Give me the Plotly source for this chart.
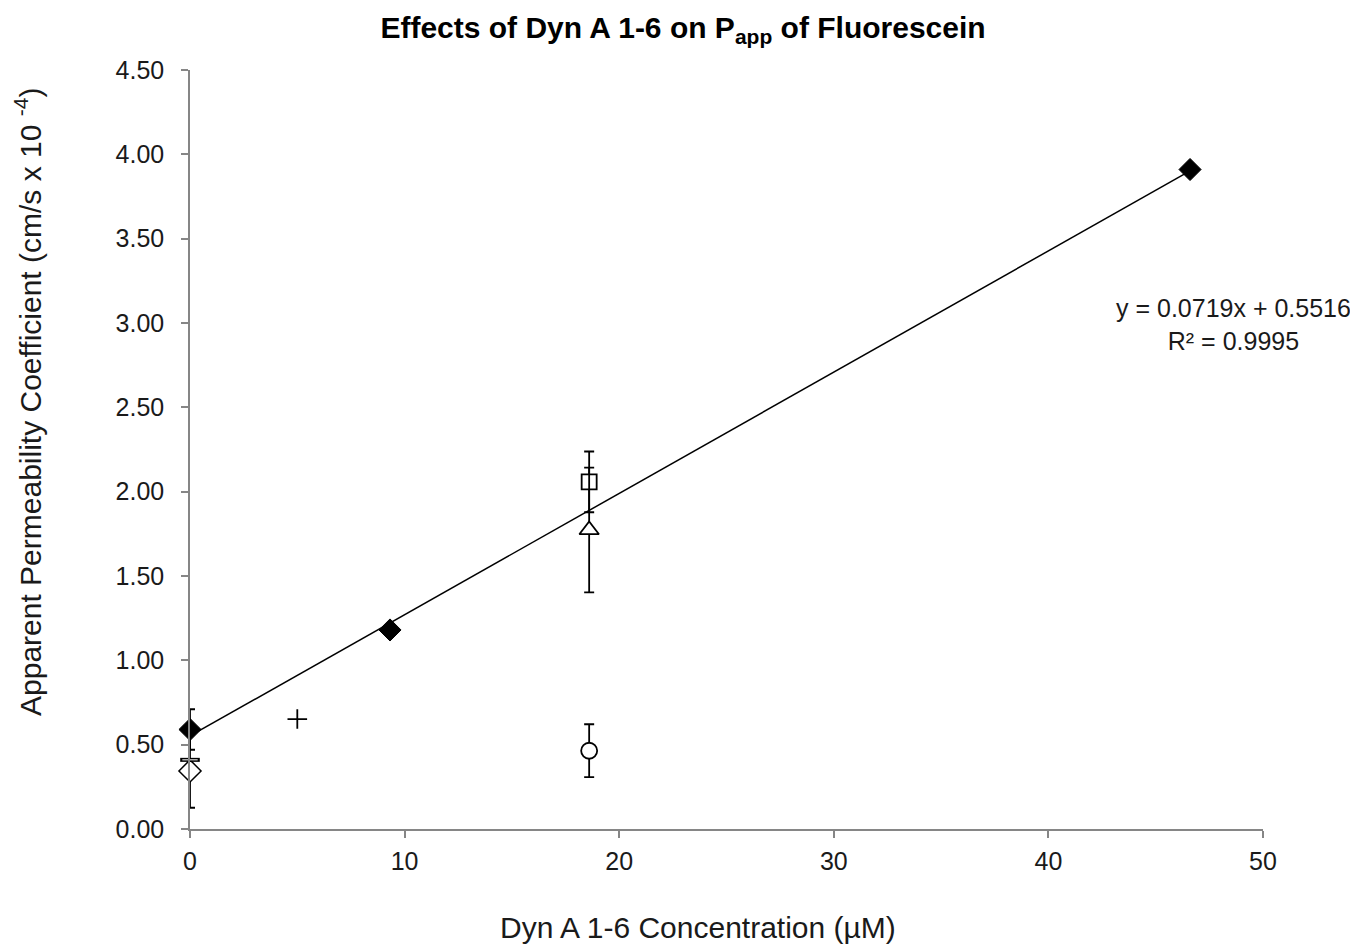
import plotly.graph_objects as go

# Data
fit_x = [0, 9.32, 46.6]
fit_y = [0.59, 1.18, 3.91]
fit_err = [0.12, 0, 0]

dash_x = [0]
dash_y = [0.41]

open_diamond_x = [0]
open_diamond_y = [0.344]
open_diamond_err = [0.218]

plus_x = [5]
plus_y = [0.652]

square_x = [18.6]
square_y = [2.058]
square_err = [0.18]

triangle_x = [18.6]
triangle_y = [1.773]
triangle_err = [0.37]

circle_x = [18.6]
circle_y = [0.464]
circle_err = [0.157]

slope = 0.0719
intercept = 0.5516
trend_x = [0, 46.6]
trend_y = [intercept + slope * v for v in trend_x]

x_ticks = [0, 10, 20, 30, 40, 50]
y_ticks = [0, 0.5, 1.0, 1.5, 2.0, 2.5, 3.0, 3.5, 4.0, 4.5]

FONT = "Liberation Sans, Arial, sans-serif"
BLACK = "#000000"
TXT = "#1a1a1a"

def eb(vals):
    return dict(type="data", array=vals, visible=True, color=BLACK, thickness=1.8, width=5)

fig = go.Figure()

fig.add_trace(go.Scatter(x=trend_x, y=trend_y, mode="lines",
                         line=dict(color=BLACK, width=1.5), showlegend=False,
                         cliponaxis=False))

fig.add_trace(go.Scatter(x=open_diamond_x, y=open_diamond_y, mode="markers",
                         marker=dict(symbol="diamond", size=17, color="white",
                                     line=dict(color=BLACK, width=1.5)),
                         error_y=eb(open_diamond_err), showlegend=False, cliponaxis=False))

fig.add_trace(go.Scatter(x=dash_x, y=dash_y, mode="markers",
                         marker=dict(symbol="line-ew", size=14,
                                     line=dict(color=BLACK, width=4)),
                         showlegend=False, cliponaxis=False))
fig.add_trace(go.Scatter(x=dash_x, y=dash_y, mode="markers",
                         marker=dict(symbol="line-ew", size=11,
                                     line=dict(color="white", width=1)),
                         showlegend=False, cliponaxis=False))

fig.add_trace(go.Scatter(x=fit_x, y=fit_y, mode="markers",
                         marker=dict(symbol="diamond", size=17, color=BLACK,
                                     line=dict(color=BLACK, width=1)),
                         error_y=eb(fit_err), showlegend=False, cliponaxis=False))

fig.add_trace(go.Scatter(x=plus_x, y=plus_y, mode="markers",
                         marker=dict(symbol="cross-thin", size=14,
                                     line=dict(color=BLACK, width=1.8)),
                         showlegend=False, cliponaxis=False))

fig.add_trace(go.Scatter(x=square_x, y=square_y, mode="markers",
                         marker=dict(symbol="square", size=15, color="white",
                                     line=dict(color=BLACK, width=1.8)),
                         error_y=eb(square_err), showlegend=False, cliponaxis=False))

fig.add_trace(go.Scatter(x=triangle_x, y=triangle_y, mode="markers",
                         marker=dict(symbol="triangle-up", size=17, color="white",
                                     line=dict(color=BLACK, width=1.8)),
                         error_y=eb(triangle_err), showlegend=False, cliponaxis=False))

fig.add_trace(go.Scatter(x=circle_x, y=circle_y, mode="markers",
                         marker=dict(symbol="circle", size=16, color="white",
                                     line=dict(color=BLACK, width=1.8)),
                         error_y=eb(circle_err), showlegend=False, cliponaxis=False))

axis_common = dict(showgrid=False, zeroline=False, showline=True, automargin=False,
                   linecolor="#868686", linewidth=1.5, ticks="outside",
                   ticklen=7, tickcolor="#868686", tickwidth=1.5,
                   tickfont=dict(family=FONT, size=25, color=TXT))

fig.update_xaxes(range=[0, 50], tickvals=x_ticks, ticklabelstandoff=2, **axis_common)
fig.update_yaxes(range=[0, 4.5], tickvals=y_ticks, tickformat=".2f",
                 ticklabelstandoff=12, **axis_common)

# page has an 8px body margin; figure sized so plot area lands at page x 190-1263, y 70-829
W, H = 1350, 937
L, T, R, B = 182, 62, 95, 116
pw = W - L - R
ph = H - T - B

def px_x(page_x):
    return (page_x - 190) / pw

def px_y(page_y):
    return (829 - page_y) / ph

fig.update_layout(
    width=W, height=H,
    margin=dict(l=L, r=R, t=T, b=B),
    plot_bgcolor="white", paper_bgcolor="white",
    title=dict(text="<b>Effects of Dyn A 1-6 on P<sub>app</sub> of Fluorescein</b>",
               x=(683 - 8) / W, xref="container", xanchor="center",
               y=1 - (27 - 8) / H, yref="container", yanchor="middle",
               font=dict(family=FONT, size=30, color=BLACK)),
    annotations=[
        dict(text="y = 0.0719x + 0.5516<br>R² = 0.9995", x=px_x(1233), y=px_y(324),
             xref="paper", yref="paper", xanchor="center", yanchor="middle",
             showarrow=False, align="center",
             font=dict(family=FONT, size=25, color=TXT)),
        dict(text="Apparent Permeability Coefficient (cm/s x 10 <sup>-4</sup>)",
             textangle=-90, x=px_x(28), y=px_y(402), xref="paper", yref="paper",
             xanchor="center", yanchor="middle",
             showarrow=False, font=dict(family=FONT, size=30, color=TXT)),
        dict(text="Dyn A 1-6 Concentration (µM)", x=px_x(698), y=px_y(928),
             xref="paper", yref="paper", xanchor="center", yanchor="middle",
             showarrow=False, font=dict(family=FONT, size=30, color=TXT)),
    ],
)

fig.write_html("out.html")
